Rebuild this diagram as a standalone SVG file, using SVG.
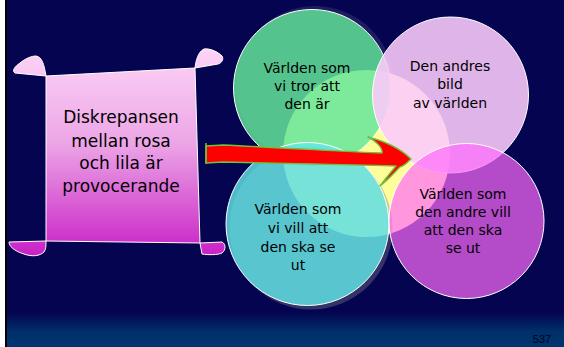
<svg xmlns="http://www.w3.org/2000/svg" width="564" height="347" viewBox="0 0 564 347">
<defs>
<linearGradient id="bg" x1="0" y1="0" x2="0" y2="1">
<stop offset="0" stop-color="#040450"/>
<stop offset="0.9" stop-color="#040450"/>
<stop offset="0.955" stop-color="#002f6a"/>
<stop offset="1" stop-color="#003670"/>
</linearGradient>
<linearGradient id="scroll" gradientUnits="userSpaceOnUse" x1="0" y1="50" x2="0" y2="256">
<stop offset="0" stop-color="#fdd3f6"/>
<stop offset="0.45" stop-color="#eca6e6"/>
<stop offset="1" stop-color="#c820c6"/>
</linearGradient>
<style>
.sc{fill:url(#scroll);stroke:#ffffff;stroke-width:1;stroke-linejoin:round}
.c{stroke:#ffffff;stroke-width:1}
.t{font-family:"Comic Sans MS","DejaVu Sans",sans-serif;fill:#000;text-anchor:middle}
.ts{font-size:17px}
.tc{font-size:14px}
</style>
</defs>
<rect x="0" y="0" width="564" height="347" fill="url(#bg)"/>
<rect x="0" y="0" width="5" height="347" fill="#ffffff"/>
<rect x="5" y="0" width="2" height="347" fill="#000000"/>

<g id="scroll-node">
<path class="sc" d="M46,76 L195,68 L200,243 L46,241 Z"/>
<path class="sc" d="M46,76 L15,73 C12,71 14,67 20,63 C26,58 32,56 36,56 C42,57 44,64 46,76 Z"/>
<path class="sc" d="M195,68 C196,60 198,52 204,49 C210,48 218,52 222,56 C224,59 222,63 218,64 Z"/>
<path class="sc" d="M46,241 L9,242 C9,246 14,251 24,254 C32,257 40,256 44,252 C46,249 46,246 46,241 Z"/>
<path class="sc" d="M200,243 L222,242 C226,244 226,250 222,253 C218,255 208,255 202,254 Z"/>
<text class="t ts" x="121" y="123">Diskrepansen</text>
<text class="t ts" x="121" y="147">mellan rosa</text>
<text class="t ts" x="121" y="169">och lila är</text>
<text class="t ts" x="121" y="192">provocerande</text>
</g>

<g id="center-node">
<circle cx="366.5" cy="153.5" r="83.5" fill="#ffff99"/>
</g>

<g id="green-node">
<circle cx="315" cy="85" r="79" fill="#ffffff" opacity="0.1"/>
<circle class="c" cx="312" cy="88" r="78.5" fill="#62e698" fill-opacity="0.83"/>
</g>

<g id="cyan-node">
<circle cx="311" cy="228" r="81.5" fill="#7a7a8a" opacity="0.4"/>
<circle class="c" cx="307.5" cy="224" r="81.5" fill="#63e8e8" fill-opacity="0.81"/>
</g>

<g id="pink-node">
<circle class="c" cx="450.5" cy="95" r="78" fill="#fbcafb" fill-opacity="0.89"/>
</g>

<g id="purple-node">
<circle class="c" cx="466.5" cy="221" r="77.5" fill="#ff6afb" fill-opacity="0.7"/>
</g>

<g id="connectors">
<path d="M206,146 L223,145 C290,148 350,152 382,153 C383,148 376,141 368,137 C388,142 402,150 411,159 C407,163 404,166 400,167 C394,173 388,180 380,186 C386,178 391,172 396,166 C330,164 260,163 223,162 L206,163 Z" fill="#ff0000" stroke="#70c040" stroke-width="1.4" stroke-linejoin="round"/>
<path d="M206,143 L206,164" stroke="#70c040" stroke-width="1.5" fill="none"/>
</g>

<g id="labels">
<text class="t tc" x="307" y="73">Världen som</text>
<text class="t tc" x="307" y="91">vi tror att</text>
<text class="t tc" x="307" y="109">den är</text>
<text class="t tc" x="450" y="71">Den andres</text>
<text class="t tc" x="450" y="89">bild</text>
<text class="t tc" x="450" y="108">av världen</text>
<text class="t tc" x="298" y="214">Världen som</text>
<text class="t tc" x="298" y="233">vi vill att</text>
<text class="t tc" x="298" y="252">den ska se</text>
<text class="t tc" x="298" y="270">ut</text>
<text class="t tc" x="463" y="199">Världen som</text>
<text class="t tc" x="463" y="217">den andre vill</text>
<text class="t tc" x="463" y="235">att den ska</text>
<text class="t tc" x="463" y="253">se ut</text>
</g>
<text x="542" y="343" font-family="'Liberation Sans', Arial, sans-serif" font-size="11" fill="#000018" text-anchor="middle">537</text>
</svg>
